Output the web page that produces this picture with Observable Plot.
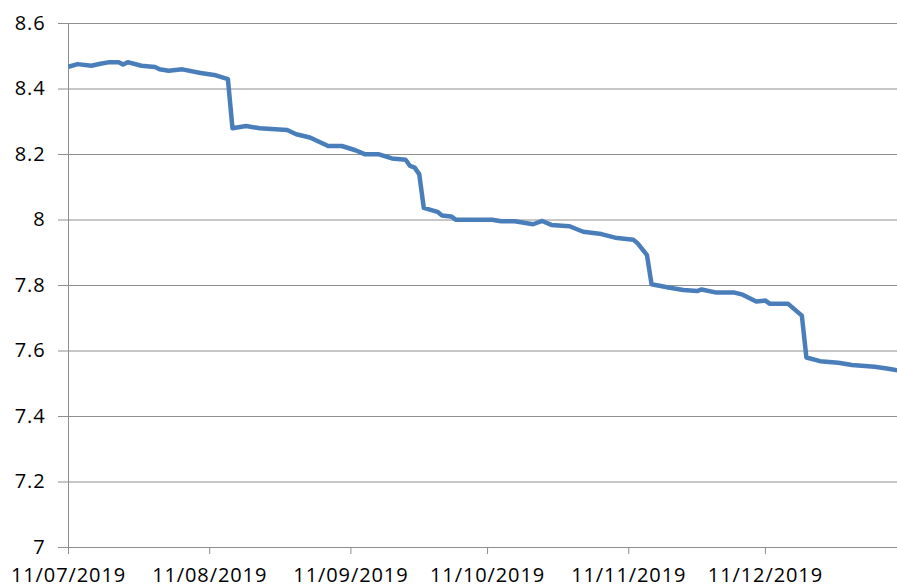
<!DOCTYPE html>
<html>
<head>
<meta charset="utf-8">
<script src="https://cdn.jsdelivr.net/npm/d3@7"></script>
<script src="https://cdn.jsdelivr.net/npm/@observablehq/plot@0.6"></script>
<style>
  html, body { margin: 0; padding: 0; background: #fff; }
  #chart svg { display: block; }
  #chart svg text { letter-spacing: 0.9px; }
</style>
</head>
<body>
<div id="chart"></div>
<script>
const dates = ["2019-07-11","2019-07-13","2019-07-16","2019-07-18","2019-07-20","2019-07-22","2019-07-23","2019-07-24","2019-07-27","2019-07-30","2019-07-31",
  "2019-08-02","2019-08-05","2019-08-09","2019-08-12","2019-08-15","2019-08-16","2019-08-19","2019-08-22","2019-08-28","2019-08-30",
  "2019-09-02","2019-09-04","2019-09-06","2019-09-09","2019-09-12","2019-09-14","2019-09-17","2019-09-20","2019-09-23","2019-09-24","2019-09-25","2019-09-26","2019-09-27","2019-09-30",
  "2019-10-01","2019-10-03","2019-10-04","2019-10-12","2019-10-14","2019-10-17","2019-10-21","2019-10-23","2019-10-25","2019-10-29",
  "2019-11-01","2019-11-05","2019-11-08","2019-11-12","2019-11-13","2019-11-15","2019-11-16","2019-11-20","2019-11-23","2019-11-26","2019-11-27","2019-11-30",
  "2019-12-04","2019-12-06","2019-12-09","2019-12-11","2019-12-12","2019-12-16","2019-12-19","2019-12-20","2019-12-23","2019-12-27","2019-12-30",
  "2020-01-04","2020-01-07","2020-01-09"];
const values = [8.468,8.476,8.471,8.477,8.482,8.482,8.475,8.482,8.471,8.467,8.46,
  8.456,8.46,8.449,8.443,8.43,8.28,8.287,8.28,8.275,8.262,
  8.252,8.239,8.226,8.226,8.213,8.201,8.201,8.188,8.184,8.165,8.16,8.14,8.037,8.025,
  8.014,8.011,8.001,8.001,7.996,7.996,7.987,7.997,7.985,7.981,
  7.964,7.957,7.946,7.94,7.928,7.893,7.804,7.793,7.786,7.783,7.788,7.779,
  7.779,7.772,7.751,7.754,7.744,7.744,7.708,7.58,7.569,7.564,7.557,
  7.552,7.546,7.541];
const yTicks = [7, 7.2, 7.4, 7.6, 7.8, 8, 8.2, 8.4, 8.6];
const xTickDates = ["2019-07-11","2019-08-11","2019-09-11","2019-10-11","2019-11-11","2019-12-11"];
const xDomain = ["2019-07-11","2020-01-09"];

const parse = s => new Date(s + "T00:00:00Z");
const data = dates.map((d, i) => ({date: parse(d), value: values[i]}));
const gray = "#8e8e8e";

const chart = Plot.plot({
  width: 897,
  height: 588,
  marginLeft: 68,
  marginRight: 0,
  marginTop: 23,
  marginBottom: 41,
  style: {fontFamily: "'Open Sans', sans-serif", fontSize: "20px", background: "#fff", color: "#000"},
  x: {type: "utc", domain: xDomain.map(parse)},
  y: {domain: [7, 8.6]},
  marks: [
    Plot.gridY(yTicks, {stroke: gray, strokeOpacity: 1}),
    Plot.axisY(yTicks, {tickSize: 10, tickPadding: 13, stroke: gray, fill: "#000", fontSize: 20, tickFormat: d => String(d), label: null}),
    Plot.ruleX([parse(xDomain[0])], {stroke: gray}),
    Plot.axisX(xTickDates.map(parse), {tickSize: 7, tickPadding: 13, stroke: gray, fill: "#000", fontSize: 20, tickFormat: d3.utcFormat("%d/%m/%Y"), label: null}),
    Plot.line(data, {x: "date", y: "value", stroke: "#4a7ebb", strokeWidth: 4.5, strokeLinejoin: "round", strokeLinecap: "butt"})
  ]
});
document.getElementById("chart").appendChild(chart);
</script>
</body>
</html>
